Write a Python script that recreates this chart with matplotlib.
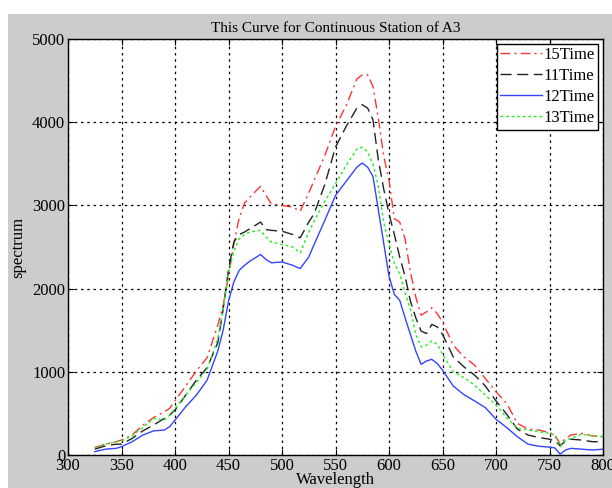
import matplotlib
matplotlib.use("Agg")
import matplotlib.pyplot as plt
from matplotlib.patches import Rectangle

# wavelength grid (nm) shared by all four runs
wl = [325, 335, 345, 350, 360, 370, 380, 390, 395, 400, 410, 420, 430, 440, 445,
      450, 455, 460, 465, 470, 480, 485, 490, 500, 510, 517, 525, 530, 540, 550,
      560, 570, 575, 580, 585, 590, 595, 600, 605, 610, 615, 620, 625, 630, 635,
      640, 645, 650, 660, 670, 680, 690, 700, 710, 720, 730, 740, 750, 755, 760,
      765, 770, 780, 790, 800]

t15 = [90, 130, 160, 180, 240, 360, 450, 520, 560, 650, 830, 1010, 1170, 1560, 1800,
       2150, 2540, 2850, 3030, 3100, 3230, 3120, 3020, 3000, 2980, 2930, 3150, 3300, 3600, 3950,
       4200, 4520, 4570, 4570, 4430, 4050, 3600, 3300, 2840, 2800, 2600, 2200, 1900, 1680, 1720,
       1770, 1700, 1600, 1320, 1180, 1080, 920, 760, 620, 380, 310, 300, 270, 240, 130,
       200, 240, 260, 230, 220]

t11 = [70, 110, 130, 130, 200, 290, 360, 440, 480, 540, 720, 900, 1050, 1350, 1750,
       2230, 2560, 2650, 2680, 2720, 2800, 2710, 2700, 2690, 2650, 2610, 2800, 2900, 3250, 3700,
       3950, 4170, 4210, 4170, 4030, 3550, 3200, 2900, 2650, 2380, 2150, 1850, 1650, 1490, 1460,
       1570, 1540, 1450, 1180, 1060, 960, 830, 650, 490, 310, 240, 210, 190, 170, 110,
       170, 190, 180, 160, 160]

t12 = [40, 70, 80, 100, 160, 240, 290, 300, 340, 420, 580, 720, 900, 1250, 1500,
       1850, 2080, 2220, 2280, 2330, 2410, 2350, 2310, 2320, 2280, 2240, 2380, 2530, 2820, 3120,
       3290, 3460, 3510, 3460, 3350, 2950, 2550, 2150, 1930, 1860, 1650, 1450, 1250, 1090, 1130,
       1150, 1100, 1020, 830, 725, 650, 570, 430, 330, 220, 130, 105, 95, 85, 10,
       60, 80, 70, 60, 70]

t13 = [90, 130, 160, 170, 230, 330, 440, 420, 480, 560, 720, 870, 1030, 1400, 1750,
       2200, 2450, 2600, 2650, 2680, 2700, 2620, 2560, 2530, 2500, 2430, 2680, 2810, 3050, 3260,
       3480, 3680, 3700, 3640, 3500, 3230, 2800, 2540, 2300, 2180, 1950, 1750, 1450, 1300, 1320,
       1370, 1330, 1210, 1000, 930, 840, 720, 600, 450, 320, 300, 280, 260, 240, 100,
       180, 200, 250, 230, 220]

xticks = [300, 350, 400, 450, 500, 550, 600, 650, 700, 750, 800]
yticks = [0, 1000, 2000, 3000, 4000, 5000]

plt.rcParams["font.family"] = ["Liberation Serif", "DejaVu Serif"]
plt.rcParams["font.size"] = 12

fig = plt.figure(figsize=(6.12, 4.88), dpi=100, facecolor="white")
# grey figure panel, slightly inset from the top-left corner like the original export
fig.patches.append(Rectangle((8 / 612, 0), 1, 1 - 14 / 488, transform=fig.transFigure,
                             facecolor="#cccccc", edgecolor="none", zorder=-10))

ax = fig.add_axes([68 / 612, 1 - 455 / 488, 535 / 612, 416 / 488])
ax.plot(wl, t15, color="#ff3333", linestyle=(0, (7, 3, 1.5, 3)), linewidth=1, label="15Time")
ax.plot(wl, t11, color="#222222", linestyle=(0, (8, 4)), linewidth=1, label="11Time")
ax.plot(wl, t12, color="#3344ff", linestyle="-", linewidth=1, label="12Time")
ax.plot(wl, t13, color="#22ee22", linestyle=(0, (2, 2)), linewidth=1, label="13Time")

ax.set_xlim(300, 800)
ax.set_ylim(0, 5000)
ax.set_xticks(xticks)
ax.set_yticks(yticks)
ax.tick_params(direction="in", top=True, right=True, length=4, pad=2)
ax.grid(True, color="black", linestyle=(0, (2, 3)), linewidth=0.9)
for s in ax.spines.values():
    s.set_linewidth(1)

ax.set_title("This Curve for Continuous Station of A3", fontsize=11, pad=5)
ax.set_xlabel("Wavelength", labelpad=-1)
ax.set_ylabel("spectrum", labelpad=4)

leg = ax.legend(loc="upper right", fancybox=False, edgecolor="black", framealpha=1,
                borderaxespad=0.3, handlelength=2.5, handletextpad=0.1,
                labelspacing=0.3, borderpad=0.2)
leg.get_frame().set_linewidth(1)

fig.savefig("out.png", dpi=100, facecolor=fig.get_facecolor())
